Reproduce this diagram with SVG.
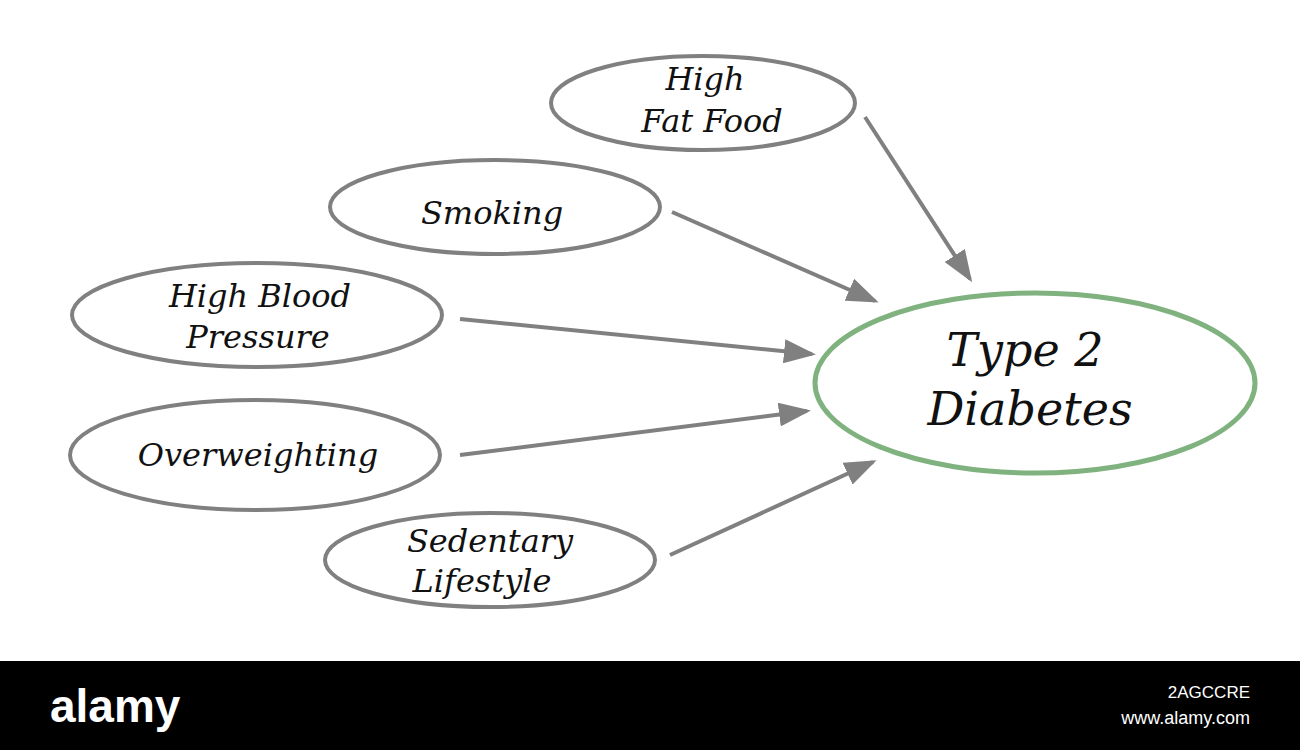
<svg xmlns="http://www.w3.org/2000/svg" width="1300" height="750" viewBox="0 0 1300 750">
<style>
.n{fill:none;stroke:#808080;stroke-width:4}
.t{font-family:"DejaVu Serif","Liberation Serif",serif;font-style:italic;font-size:32px;fill:#111;text-anchor:middle}
.c line{stroke:#808080;stroke-width:4;marker-end:url(#a)}
</style>
<defs><marker id="a" markerWidth="8" markerHeight="6" refX="7" refY="3" orient="auto" markerUnits="strokeWidth"><path d="M0,0L8,3L0,6Z" fill="#808080"/></marker></defs>
<rect width="1300" height="750" fill="#fff"/>
<g id="fat"><ellipse class="n" cx="703" cy="103" rx="152" ry="47"/><text class="t" x="705" y="90">High</text><text class="t" x="712" y="132">Fat Food</text></g>
<g id="smoking"><ellipse class="n" cx="495" cy="207" rx="165" ry="47"/><text class="t" x="492" y="224">Smoking</text></g>
<g id="bp"><ellipse class="n" cx="257" cy="315" rx="185" ry="52"/><text class="t" x="260" y="307">High Blood</text><text class="t" x="258" y="348">Pressure</text></g>
<g id="ow"><ellipse class="n" cx="255" cy="455" rx="185" ry="55"/><text class="t" x="258" y="466">Overweighting</text></g>
<g id="sed"><ellipse class="n" cx="490" cy="560" rx="165" ry="47"/><text class="t" x="490" y="552">Sedentary</text><text class="t" x="482" y="592">Lifestyle</text></g>
<g id="t2"><ellipse cx="1035" cy="383" rx="220" ry="90" fill="none" stroke="#7fb27f" stroke-width="5"/><text class="t" style="font-size:46px" x="1025" y="366">Type 2</text><text class="t" style="font-size:46px" x="1030" y="425">Diabetes</text></g>
<g class="c">
<line x1="865" y1="117" x2="970" y2="279"/>
<line x1="672" y1="212" x2="875" y2="301"/>
<line x1="460" y1="319" x2="812" y2="354"/>
<line x1="460" y1="455" x2="807" y2="411"/>
<line x1="670" y1="555" x2="873" y2="462"/>
</g>
<rect y="661" width="1300" height="89" fill="#000"/>
<text x="50" y="722" font-family="Liberation Sans,sans-serif" font-weight="bold" font-size="46" fill="#fff">alamy</text>
<text x="1250" y="698" font-family="Liberation Sans,sans-serif" font-size="17" fill="#fff" text-anchor="end">2AGCCRE</text>
<text x="1250" y="724" font-family="Liberation Sans,sans-serif" font-size="18" fill="#fff" text-anchor="end">www.alamy.com</text>
</svg>
